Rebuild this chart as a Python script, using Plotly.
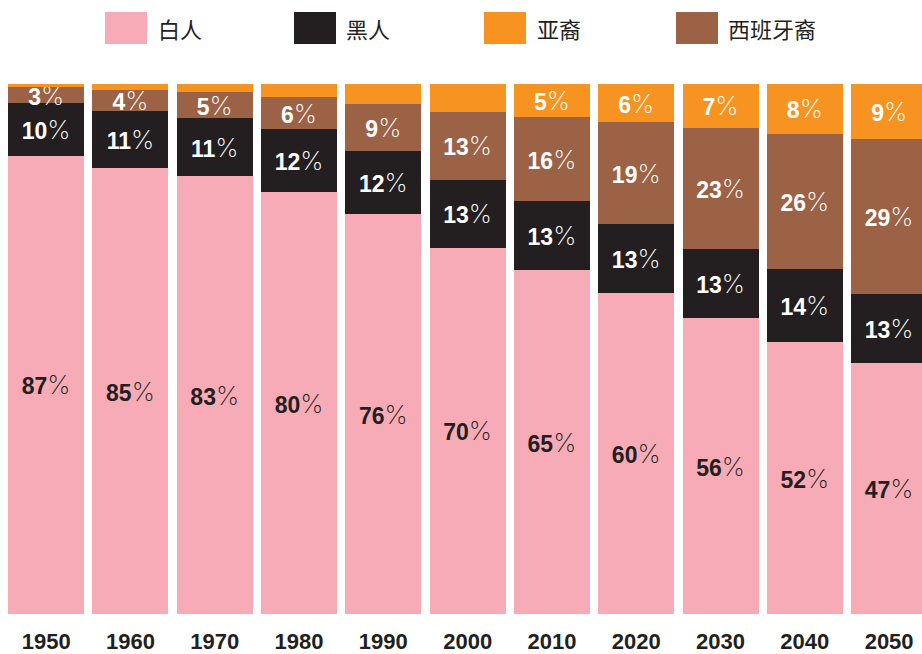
import plotly.graph_objects as go

years = ["1950", "1960", "1970", "1980", "1990", "2000", "2010", "2020", "2030", "2040", "2050"]
white = [87, 85, 83, 80, 76, 70, 65, 60, 56, 52, 47]
black = [10, 11, 11, 12, 12, 13, 13, 13, 13, 14, 13]
hispanic = [3, 4, 5, 6, 9, 13, 16, 19, 23, 26, 29]
asian = [0.6, 1.1, 1.5, 2.5, 3.8, 5.3, 6.2, 7.2, 8.3, 9.5, 10.4]
asian_labels = ["", "", "", "", "", "", "5", "6", "7", "8", "9"]

names = ["白人", "黑人", "亚裔", "西班牙裔"]
colors = {"白人": "#F7ABB6", "黑人": "#231F20", "亚裔": "#F79421", "西班牙裔": "#9B6245"}

W, H = 922, 654
ML, MR, MT, MB = 4, 0, 84, 40

PCT = "<span style=\"font-family:Inter;font-weight:200;font-size:26px\">%</span>"


def label(v):
    if v == "":
        return ""
    return "<b>%s</b>%s" % (v, PCT)


fig = go.Figure()
series = [
    ("白人", white, [label(str(v)) for v in white], "#231F20"),
    ("黑人", black, [label(str(v)) for v in black], "white"),
    ("西班牙裔", hispanic, [label(str(v)) for v in hispanic], "white"),
    ("亚裔", asian, [label(v) for v in asian_labels], "white"),
]
for name, vals, texts, tcol in series:
    fig.add_trace(go.Bar(
        x=years, y=vals, name=name, marker=dict(color=colors[name], line=dict(width=0)),
        text=texts, textposition="inside", insidetextanchor="middle",
        textfont=dict(family="Liberation Sans, Arial, sans-serif", size=23, color=tcol),
        constraintext="none", hoverinfo="skip",
    ))


def px_x(p):
    return (p - ML) / (W - ML - MR)


def px_y(p):
    return (H - MB - p) / (H - MT - MB)


legend_items = [("白人", 105, 156), ("黑人", 294, 344), ("亚裔", 484, 535), ("西班牙裔", 676, 726)]
for name, rx, tx in legend_items:
    fig.add_shape(type="rect", xref="paper", yref="paper",
                  x0=px_x(rx), x1=px_x(rx + 42), y0=px_y(44), y1=px_y(12),
                  fillcolor=colors[name], line=dict(width=0), layer="above")
    fig.add_annotation(xref="paper", yref="paper", x=px_x(tx), y=px_y(28),
                       xanchor="left", yanchor="middle", text=name, showarrow=False,
                       font=dict(family="Noto Sans CJK SC", size=22, color="#231F20"))

fig.update_layout(
    width=W, height=H, margin=dict(l=ML, r=MR, t=MT, b=MB, autoexpand=False),
    barmode="stack", barnorm="percent", bargap=0.098,
    paper_bgcolor="white", plot_bgcolor="white", showlegend=False,
    uniformtext=dict(minsize=23, mode="show"),
)
fig.update_xaxes(range=[-0.5, 10.39], showgrid=False, zeroline=False, showline=False,
                 ticks="", ticklabelstandoff=12, automargin=False,
                 tickfont=dict(family="Liberation Sans, Arial, sans-serif", size=22, color="#231F20", weight="bold"))
fig.update_yaxes(range=[0, 100], visible=False, showgrid=False, zeroline=False, automargin=False)

fig.write_html("out.html")
